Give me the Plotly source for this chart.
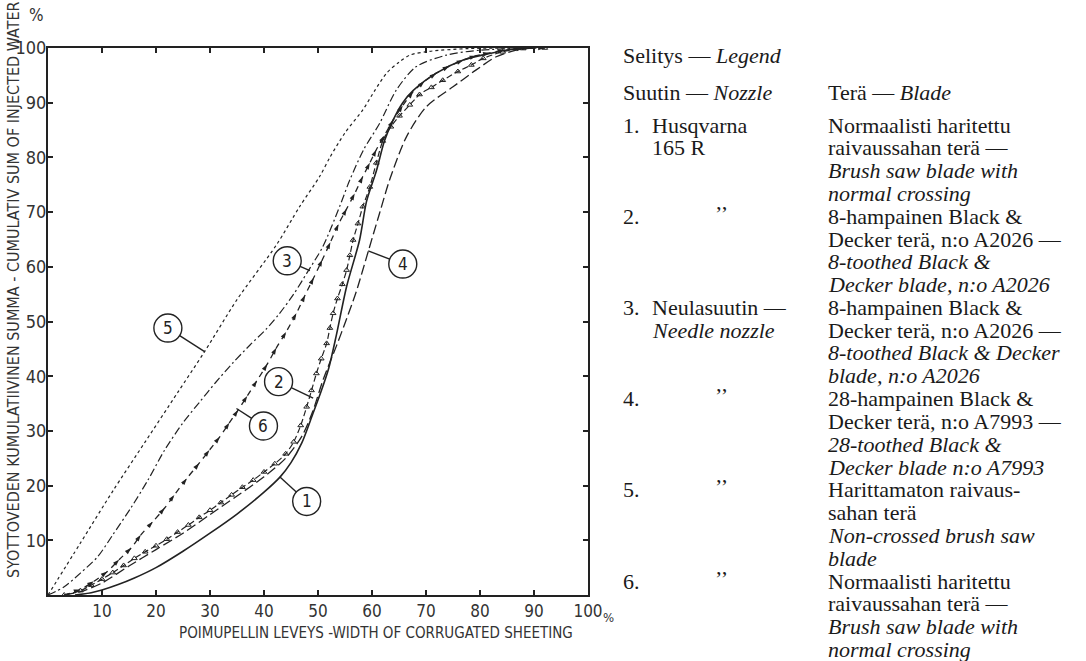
import math
import plotly.graph_objects as go

# ---------------- data ----------------
c1_x = [5, 8, 10, 13, 16, 20, 25, 30, 35, 40, 43, 45, 47, 49, 50.5, 52, 53.4, 55.3, 57.7, 59, 60.8, 62.3, 63.9, 65.7, 67.6, 71.9, 76.9, 81.8, 86.1, 90]
c1_y = [0, 0.4, 0.9, 1.9, 3.1, 5, 8, 11.3, 14.8, 18.8, 21.6, 24.2, 27.8, 33, 37, 41.5, 47.5, 56.4, 64.9, 72, 77.5, 83, 86.8, 90, 92.2, 95.4, 97.8, 99, 99.8, 100]

c2_x = [3, 6, 8, 10, 12, 14, 16, 18, 20, 22, 24, 26, 28, 30, 32, 34, 36, 38, 40, 42,
        44, 45.5, 46.8, 47.9, 48.8, 49.7, 50.6, 51.6, 52.2, 52.8, 53.6, 54.5, 55.3, 55.9, 56.5, 57.4, 58.3, 59.6, 60.8, 62,
        63.5, 65.1, 67, 68.8, 71, 73.1, 75.9, 78.4, 80.6, 84.2, 88, 92]
c2_y = [0, 0.8, 1.8, 2.9, 4.1, 5.4, 6.7, 7.9, 9, 10.2, 11.5, 12.8, 14.2, 15.5, 16.9, 18.3, 19.7, 21, 22.5, 24,
        25.8, 28, 31, 34.4, 37.4, 40.5, 43.2, 46, 48.8, 51.5, 54.2, 56.8, 59.4, 62.1, 64.9, 67.9, 71, 74.6, 79, 83,
        85.6, 87.6, 89.6, 91.5, 92.8, 94.1, 95.7, 96.9, 98.1, 99.3, 99.9, 100]

c3_x = [0, 3, 6, 9.2, 12, 15.4, 18.5, 21.6, 25, 28.1, 31, 34.3, 37.5, 40.4, 42.9, 45.5, 47.9, 50.9, 54, 55.9, 58.5, 61.4, 64.5, 68.2, 73.8, 80, 90]
c3_y = [0, 1.5, 4, 7, 11, 16, 21, 26.5, 31.5, 35.3, 38.8, 42.5, 45.8, 48.6, 51.5, 55, 58.8, 63.7, 71, 75.9, 81.5, 86.2, 92.3, 96.6, 98.7, 99.6, 100]

c4_x = [3, 6, 10, 15, 20, 25, 30, 35, 40, 44, 47, 49, 51, 53.4, 55.3, 57.1, 59.3, 61.4, 63.3, 66.4, 70.1, 75, 79.3, 83, 86.7, 90]
c4_y = [0, 0.6, 2.2, 5.3, 8.3, 11.3, 14.7, 18.1, 21.6, 25, 29, 33.5, 39.5, 45.5, 50.5, 55.5, 62.8, 69.8, 76, 83.8, 89.3, 92.9, 96, 98.4, 99.6, 100]

c5_x = [0, 6, 12, 18, 24, 29, 35, 42.3, 46.6, 50.3, 52.2, 55, 58.3, 60.5, 62.7, 65, 67, 70.7, 78, 90]
c5_y = [0, 9.5, 19, 28, 37, 44.5, 54, 64, 71, 76.5, 80, 84.5, 88.7, 92.2, 95.4, 97.4, 98.7, 99.4, 99.9, 100]

c6_x = [3, 6, 8.5, 11, 13.2, 15.4, 17.2, 19.4, 21.6, 23.4, 25.7, 28, 29.9, 31.8, 33.6, 35.2, 36.9, 38.7, 40.6, 42.3,
        44.1, 46, 47.6, 49.2, 50.8, 52.3, 53.8, 55.3, 56.8, 58.3, 59.6, 60.8, 62.3, 63.9, 65.7, 67.6, 69.7, 71.9, 74.3, 76.9,
        79.3, 81.8, 84.5, 88, 92]
c6_y = [0, 1, 2.5, 4.3, 6.5, 8.6, 11, 13.4, 15.9, 18.3, 21.3, 24.1, 26.5, 28.9, 31.5, 33.8, 36.4, 39.2, 42.2, 45.2,
        48.1, 51.5, 54.8, 58, 61.3, 64.5, 67.8, 70.6, 73.4, 76.5, 79, 81.4, 84, 86.8, 89.5, 92, 93.9, 95.4, 96.7, 97.8,
        98.6, 99.1, 99.6, 99.9, 100]

tick_vals = [10, 20, 30, 40, 50, 60, 70, 80, 90, 100]
tick_text = ["10", "20", "30", "40", "50", "60", "70", "80", "90", "100"]

# curve labels: number, circle centre, point on curve where leader ends
curve_labels = ["1", "2", "3", "4", "5", "6"]
label_centre = [(47.9, 17.1), (42.7, 39.0), (44.3, 61.1), (65.7, 60.5), (22.2, 48.8), (39.9, 30.9)]
label_target = [(42.9, 21.6), (49.1, 36.0), (48.5, 59.3), (59.3, 62.9), (29.0, 44.5), (34.9, 34.1)]

x_title = "POIMUPELLIN LEVEYS -WIDTH OF CORRUGATED SHEETING"
y_title = "SYOTTOVEDEN KUMULATIIVINEN SUMMA - CUMULATIV SUM OF INJECTED WATER"

legend_head = ["Selitys — <i>Legend</i>", "Suutin — <i>Nozzle</i>", "Terä — <i>Blade</i>"]
legend_nums = [(0, "1."), (4, "2."), (8, "3."), (12, "4."), (16, "5."), (20, "6.")]
legend_nozzle = [(0, "Husqvarna"), (1, "165 R"), (8, "Neulasuutin —"), (9, "<i>Needle nozzle</i>")]
legend_ditto = [4, 12, 16, 20]
legend_blade = [
    "Normaalisti haritettu", "raivaussahan terä —", "<i>Brush saw blade with</i>", "<i>normal crossing</i>",
    "8-hampainen Black &", "Decker terä, n:o A2026 —", "<i>8-toothed Black &</i>", "<i>Decker blade, n:o A2026</i>",
    "8-hampainen Black &", "Decker terä, n:o A2026 —", "<i>8-toothed Black & Decker</i>", "<i>blade, n:o A2026</i>",
    "28-hampainen Black &", "Decker terä, n:o A7993 —", "<i>28-toothed Black &</i>", "<i>Decker blade n:o A7993</i>",
    "Harittamaton raivaus-", "sahan terä", "<i>Non-crossed brush saw</i>", "<i>blade</i>",
    "Normaalisti haritettu", "raivaussahan terä —", "<i>Brush saw blade with</i>", "<i>normal crossing</i>",
]

# ---------------- layout geometry ----------------
W, H = 1086, 661
L, R, T, B = 48, 588, 48, 595


def pxx(p):
    return (p - L) / (R - L)


def pxy(p):
    return (B - p) / (B - T)


INK = "#222222"
NARROW = "Liberation Sans Narrow, DejaVu Sans Condensed, sans-serif"
SERIF = "Liberation Serif, Times New Roman, serif"
TITLEFONT = dict(family="DejaVu Sans Condensed, sans-serif", size=15, color="#333333")
YTITLEFONT = dict(family="DejaVu Sans Condensed, sans-serif", size=16, color="#333333")

fig = go.Figure()

line_common = dict(shape="spline", smoothing=0.8, color=INK)
fig.add_trace(go.Scatter(x=c5_x, y=c5_y, mode="lines", line=dict(width=1.2, dash="3px,3px", **line_common)))
fig.add_trace(go.Scatter(x=c3_x, y=c3_y, mode="lines", line=dict(width=1.2, dash="8px,3px,2px,3px", **line_common)))
fig.add_trace(go.Scatter(x=c4_x, y=c4_y, mode="lines", line=dict(width=1.3, dash="10px,4px", **line_common)))
fig.add_trace(go.Scatter(x=c1_x, y=c1_y, mode="lines", line=dict(width=1.6, **line_common)))
fig.add_trace(go.Scatter(x=c2_x, y=c2_y, mode="lines+markers",
                         line=dict(width=1.2, dash="6px,3px", **line_common),
                         marker=dict(symbol="triangle-up-open", size=5, color=INK, line=dict(width=1, color=INK))))
fig.add_trace(go.Scatter(x=c6_x, y=c6_y, mode="lines+markers",
                         line=dict(width=1.3, dash="6px,5px", **line_common),
                         marker=dict(symbol="arrow", angleref="previous", size=7, color=INK)))

shapes = []
annotations = []
r_px = 14.0
sx = (R - L) / 100.0
sy = (B - T) / 100.0
for lab, (cx, cy), (tx, ty) in zip(curve_labels, label_centre, label_target):
    shapes.append(dict(type="circle", xref="x", yref="y", x0=cx - r_px / sx, x1=cx + r_px / sx,
                       y0=cy - r_px / sy, y1=cy + r_px / sy,
                       line=dict(color=INK, width=1.4), fillcolor="rgba(255,255,255,0)"))
    dxp = (tx - cx) * sx
    dyp = (ty - cy) * sy
    d = math.hypot(dxp, dyp)
    ex = cx + (dxp / d) * r_px / sx
    ey = cy + (dyp / d) * r_px / sy
    shapes.append(dict(type="line", xref="x", yref="y", x0=ex, y0=ey, x1=tx, y1=ty, line=dict(color=INK, width=1.4)))
    annotations.append(dict(x=cx, y=cy, xref="x", yref="y", text=lab, showarrow=False,
                            font=dict(family="DejaVu Sans Condensed, sans-serif", size=17, color=INK),
                            xanchor="center", yanchor="middle"))

# axis titles
annotations.append(dict(x=pxx(376), y=pxy(633), xref="paper", yref="paper", text=x_title, showarrow=False,
                        font=TITLEFONT, xanchor="center", yanchor="middle"))
annotations.append(dict(x=pxx(13), y=pxy(290), xref="paper", yref="paper", text=y_title, showarrow=False,
                        textangle=-90, font=YTITLEFONT, xanchor="center", yanchor="middle"))
annotations.append(dict(x=pxx(36), y=pxy(15), xref="paper", yref="paper", text="%", showarrow=False,
                        font=dict(family=NARROW, size=17, color="#333333"),
                        xanchor="center", yanchor="middle"))
annotations.append(dict(x=pxx(601), y=pxy(617), xref="paper", yref="paper", text="%", showarrow=False,
                        font=dict(family=NARROW, size=13, color="#333333"),
                        xanchor="left", yanchor="middle"))

# legend text block on the right
X_NUM, X_NAME, X_DITTO, X_BLADE = 621, 650, 713, 826
Y0, DY = 125.0, 22.8
tfont = dict(family=SERIF, size=22, color="#1a1a1a")


def txt(xp, yp, s):
    annotations.append(dict(x=pxx(xp), y=pxy(yp), xref="paper", yref="paper", text=s, showarrow=False,
                            font=tfont, xanchor="left", yanchor="middle"))


txt(X_NUM, 56, legend_head[0])
txt(X_NUM, 92, legend_head[1])
txt(X_BLADE, 92, legend_head[2])
for k, s in legend_nums:
    txt(X_NUM, Y0 + DY * k, s)
for k, s in legend_nozzle:
    txt(X_NAME, Y0 + DY * k, s)
for k in legend_ditto:
    txt(X_DITTO, Y0 + DY * k - 3, "’’")
for k, s in enumerate(legend_blade):
    txt(X_BLADE, Y0 + DY * k, s)

axis_common = dict(range=[0, 100], showgrid=False, zeroline=False, showline=True, linewidth=2, linecolor=INK,
                   mirror="allticks", ticks="inside", ticklen=5, tickwidth=1.5, tickcolor=INK,
                   tickvals=tick_vals, ticktext=tick_text)

fig.update_layout(
    width=W, height=H,
    margin=dict(l=L, r=W - R, t=T, b=H - B, pad=0),
    paper_bgcolor="white", plot_bgcolor="white",
    showlegend=False,
    xaxis=dict(ticklabelstandoff=0, tickfont=dict(family=NARROW, size=17, color="#333333"), **axis_common),
    yaxis=dict(ticklabelstandoff=-4, tickfont=dict(family=NARROW, size=18, color="#333333"), **axis_common),
    shapes=shapes,
    annotations=annotations,
)

fig.write_html("out.html", config={"displayModeBar": False},
               post_script="document.body.style.margin='0px';document.body.style.overflow='hidden';")
